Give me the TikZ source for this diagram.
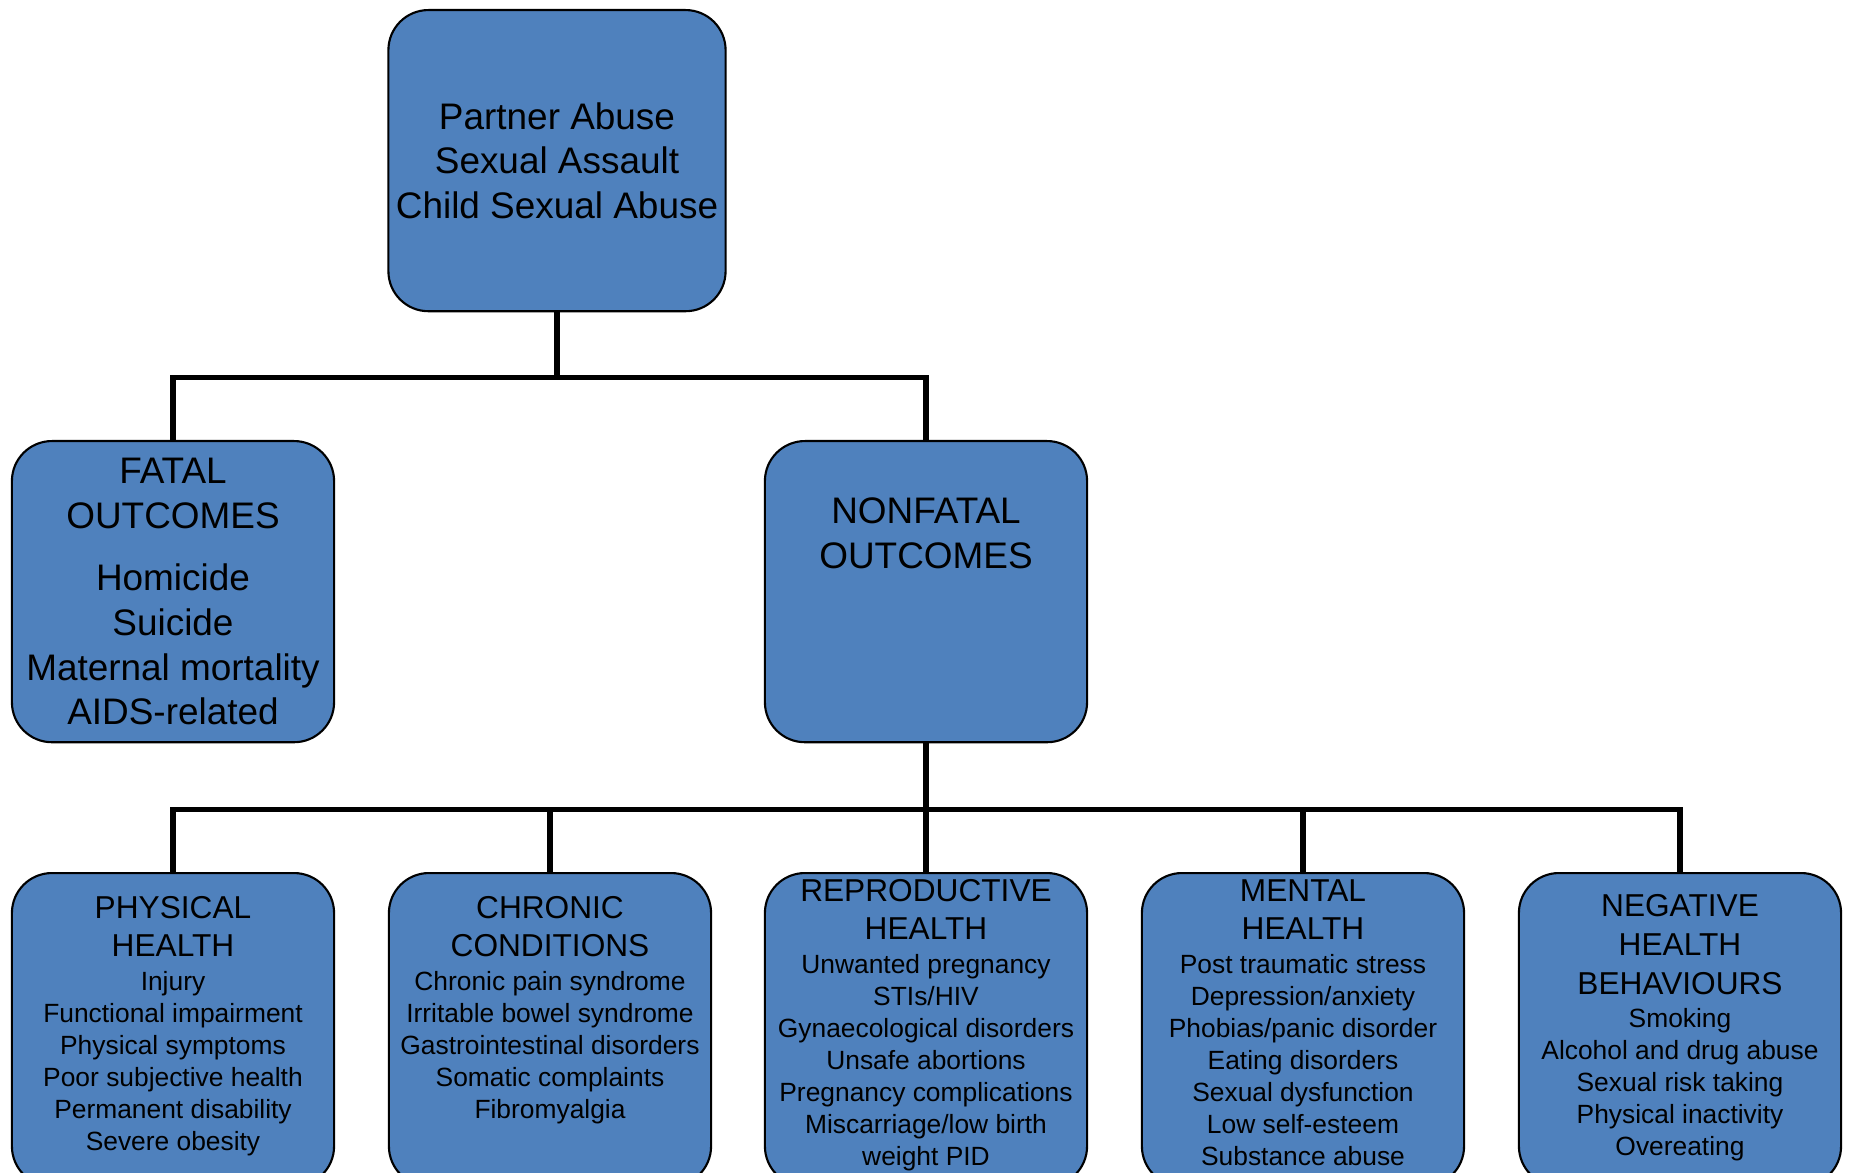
\documentclass[tikz,border=0pt]{standalone}
\usepackage{fontspec}
\setmainfont{Liberation Sans}
\usetikzlibrary{positioning}
\usepackage{xcolor}
\definecolor{cbox}{RGB}{79,129,189}

\newcommand{\hdr}[1]{{\fontsize{9pt}{9.1pt}\selectfont #1}}

\begin{document}
\begin{tikzpicture}[x=0.01cm, y=-0.01cm,
	box/.style={rectangle, rounded corners=0.4cm, fill=cbox, draw=black, line width=0.6pt, minimum width=3.22cm, minimum height=3.01cm, inner sep=0pt, align=center},
	bigtxt/.style={align=center, inner sep=0pt, font=\fontsize{10.5pt}{12.7pt}\selectfont},
	smalltxt/.style={align=center, inner sep=0pt, font=\fontsize{7.5pt}{9.1pt}\selectfont},
	conn/.style={line width=1.45pt}]
		\def\xright{1850}
		\def\ydown{1173}
		\useasboundingbox (0,0) rectangle (\xright,\ydown);
		\clip (0,0) rectangle (\xright,\ydown);

		\def\lowh{3.13cm}

		% Top box
		\node[box, bigtxt, minimum width=3.37cm, anchor=north] (abuse) at (557,9)
			{Partner Abuse\\Sexual Assault\\Child Sexual Abuse};

		% Outcomes
		\node[box, bigtxt, anchor=north] (fatal) at (173,440)
			{FATAL\\OUTCOMES\\[0.18cm]Homicide\\Suicide\\Maternal mortality\\AIDS-related};
		\node[box, anchor=north] (nonfatal) at (926,440) {};
		\node[bigtxt, below=0.57cm of nonfatal.north] (nonfatal-txt)
			{NONFATAL\\OUTCOMES};

		% Nonfatal groups
		\node[box, minimum height=\lowh, anchor=north] (physical) at (173,872) {};
		\node[box, minimum height=\lowh, anchor=north] (chronic) at (550,872) {};
		\node[box, minimum height=\lowh, anchor=north] (reproductive) at (926,872) {};
		\node[box, minimum height=\lowh, anchor=north] (mental) at (1303,872) {};
		\node[box, minimum height=\lowh, anchor=north] (negative) at (1680,872) {};

		\node[smalltxt, below=0.24cm of physical.north] (physical-txt)
			{\hdr{PHYSICAL}\\[1.7pt]\hdr{HEALTH}\\[0.4pt]Injury\\Functional impairment\\Physical symptoms\\Poor subjective health\\Permanent disability\\Severe obesity};
		\node[smalltxt, below=0.24cm of chronic.north] (chronic-txt)
			{\hdr{CHRONIC}\\[1.7pt]\hdr{CONDITIONS}\\[0.4pt]Chronic pain syndrome\\Irritable bowel syndrome\\Gastrointestinal disorders\\Somatic complaints\\Fibromyalgia};
		\node[smalltxt, below=0.07cm of reproductive.north] (reproductive-txt)
			{\hdr{REPRODUCTIVE}\\[1.7pt]\hdr{HEALTH}\\[0.6pt]Unwanted pregnancy\\STIs/HIV\\Gynaecological disorders\\Unsafe abortions\\Pregnancy complications\\Miscarriage/low birth\\weight PID};
		\node[smalltxt, below=0.07cm of mental.north] (mental-txt)
			{\hdr{MENTAL}\\[1.7pt]\hdr{HEALTH}\\[0.6pt]Post traumatic stress\\Depression/anxiety\\Phobias/panic disorder\\Eating disorders\\Sexual dysfunction\\Low self-esteem\\Substance abuse};
		\node[smalltxt, below=0.22cm of negative.north] (negative-txt)
			{\hdr{NEGATIVE}\\[1.9pt]\hdr{HEALTH}\\[1.9pt]\hdr{BEHAVIOURS}\\[0.4pt]Smoking\\Alcohol and drug abuse\\Sexual risk taking\\Physical inactivity\\Overeating};

		% Connectors
		\coordinate (split1) at ([yshift=-0.65cm]abuse.south);
		\coordinate (split2) at ([yshift=-0.66cm]nonfatal.south);
		\draw[conn] (abuse.south) -- (split1);
		\draw[conn] (split1) -| (fatal.north);
		\draw[conn] (split1) -| (nonfatal.north);
		\draw[conn] (nonfatal.south) -- (split2);
		\foreach \grp in {physical, chronic, reproductive, mental, negative}
			\draw[conn] (split2) -| (\grp.north);

	\end{tikzpicture}
\end{document}
